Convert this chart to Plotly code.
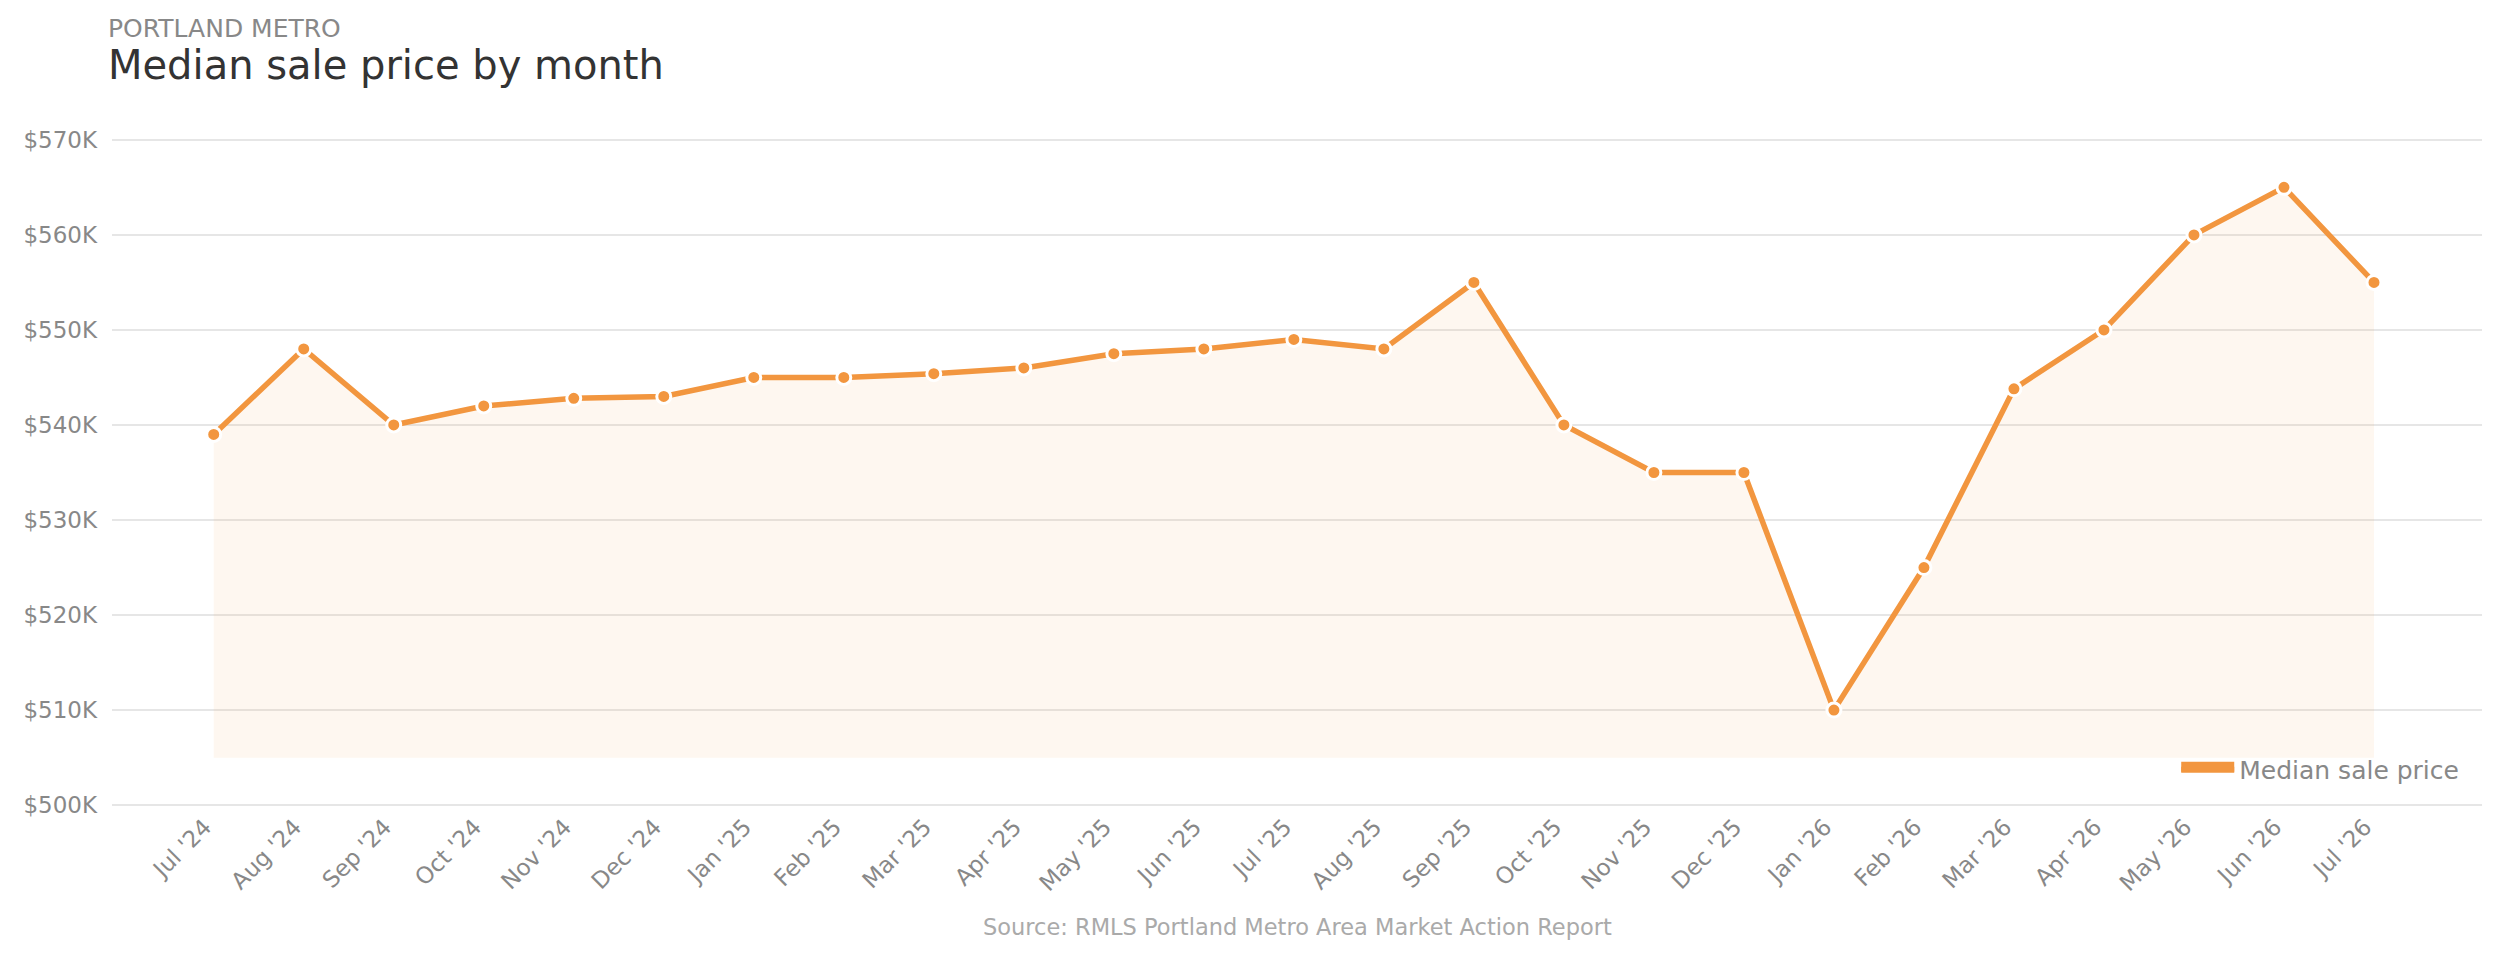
import plotly.graph_objects as go

months = ["Jul '24", "Aug '24", "Sep '24", "Oct '24", "Nov '24", "Dec '24",
          "Jan '25", "Feb '25", "Mar '25", "Apr '25", "May '25", "Jun '25",
          "Jul '25", "Aug '25", "Sep '25", "Oct '25", "Nov '25", "Dec '25",
          "Jan '26", "Feb '26", "Mar '26", "Apr '26", "May '26", "Jun '26", "Jul '26"]
median_price = [539000, 548000, 540000, 542000, 542800, 543000,
                545000, 545000, 545400, 546000, 547500, 548000,
                549000, 548000, 555000, 540000, 535000, 535000,
                510000, 525000, 543800, 550000, 560000, 565000, 555000]
fill_base = 505000
y_ticks = [500000, 510000, 520000, 530000, 540000, 550000, 560000, 570000]
y_tick_labels = ["$500K", "$510K", "$520K", "$530K", "$540K", "$550K", "$560K", "$570K"]

ORANGE = "#F2963F"
FONT = "DejaVu Sans"

idx = list(range(len(months)))

fig = go.Figure()
fig.add_trace(go.Scatter(x=idx, y=[fill_base] * len(idx), mode="lines",
                         line=dict(width=0, color="rgba(0,0,0,0)"),
                         showlegend=False, hoverinfo="skip"))
fig.add_trace(go.Scatter(x=idx, y=median_price, mode="lines+markers",
                         fill="tonexty", fillcolor="rgba(242,150,63,0.08)",
                         line=dict(color=ORANGE, width=5.5),
                         marker=dict(size=14, color=ORANGE, line=dict(color="white", width=3)),
                         showlegend=False, name="Median sale price"))
# legend-only swatch (no data)
fig.add_trace(go.Scatter(x=[None], y=[None], mode="lines", name="Median sale price",
                         fill="toself", fillcolor=ORANGE,
                         line=dict(color=ORANGE, width=10), showlegend=True,
                         hoverinfo="skip"))

fig.update_layout(
    width=2484, height=940,
    margin=dict(l=104, r=10, t=129, b=140),
    paper_bgcolor="white", plot_bgcolor="white",
    font=dict(family=FONT, color="#888888"),
    showlegend=True,
    legend=dict(x=0.9925, xanchor="right", y=0.058, yanchor="middle",
                font=dict(size=25, color="#888888", family=FONT),
                bgcolor="rgba(0,0,0,0)", itemwidth=53),
    xaxis=dict(range=[-1.13, 25.2], tickmode="array", tickvals=idx, ticktext=months,
               tickangle=-45, tickfont=dict(size=23, color="#888888"),
               ticklabelshift=-9,
               showgrid=False, zeroline=False, showline=False, ticks=""),
    yaxis=dict(range=[499700, 570300], tickmode="array", tickvals=y_ticks,
               ticktext=y_tick_labels, tickfont=dict(size=23, color="#888888"),
               showgrid=True, gridcolor="#E6E6E6", gridwidth=2,
               zeroline=False, showline=False, ticks="", ticklabelstandoff=14),
    annotations=[
        dict(text="PORTLAND METRO", xref="paper", yref="paper", x=0, y=1.1624,
             xanchor="left", yanchor="middle", xshift=-6, showarrow=False,
             font=dict(size=25, color="#888888", family=FONT)),
        dict(text="Median sale price by month", xref="paper", yref="paper", x=0, y=1.1073,
             xanchor="left", yanchor="middle", xshift=-6, showarrow=False,
             font=dict(size=40, color="#333333", family=FONT)),
        dict(text="Source: RMLS Portland Metro Area Market Action Report", xref="paper",
             yref="paper", x=0.5, y=-0.1773, xanchor="center", yanchor="middle",
             showarrow=False, font=dict(size=22.5, color="#AAAAAA", family=FONT)),
    ],
)

fig.write_html("out.html")
